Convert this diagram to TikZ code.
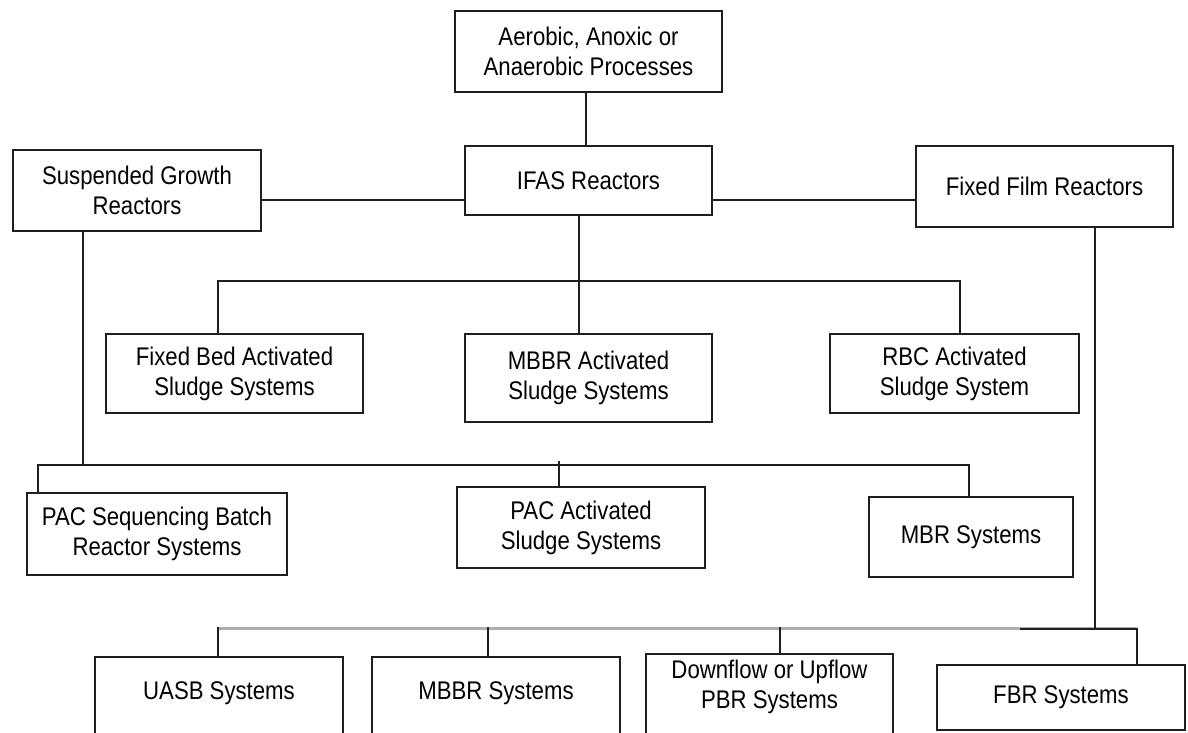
\documentclass[tikz,border=0pt]{standalone}
\usepackage{fontspec}
\setmainfont{Liberation Sans}[FakeStretch=0.87]
\begin{document}
\begin{tikzpicture}[x=1pt,y=-1pt,
  box/.style={draw=black!88, line width=2pt, inner sep=0pt, align=center,
    font=\fontsize{25.5}{30}\selectfont},
  lbl/.style={inner sep=0pt, align=center, font=\fontsize{25.5}{30}\selectfont},
  conn/.style={draw=black!88, line width=2pt},
  grayconn/.style={draw=black!32, line width=3pt}]
\useasboundingbox (0,0) rectangle (1188,733);
\clip (0,0) rectangle (1188,733);
\fill[white] (0,0) rectangle (1188,733);

% top level
\node[box, minimum width=267, minimum height=81] (aer) at (588.5,51.5) {Aerobic, Anoxic or\\Anaerobic Processes};
\node[box, minimum width=247, minimum height=69] (ifas) at (588.5,180.5) {IFAS Reactors};
\node[box, minimum width=248, minimum height=81] (susp) at (137,190.5) {Suspended Growth\\Reactors};
\node[box, minimum width=257, minimum height=81] (ffr) at (1044.5,186.5) {Fixed Film Reactors};

% IFAS children
\node[box, minimum width=257, minimum height=79] (fbed) at (234.5,373.5) {Fixed Bed Activated\\Sludge Systems};
\node[box, minimum width=247, minimum height=88] (mbbra) at (588.5,378) {MBBR Activated\\Sludge Systems};
\node[box, minimum width=249, minimum height=79] (rbc) at (954.5,373.5) {RBC Activated\\Sludge System};

% suspended children
\node[box, minimum width=260, minimum height=82] (pacsbr) at (157,534) {PAC Sequencing Batch\\Reactor Systems};
\node[box, minimum width=248, minimum height=81] (pacas) at (581,527.5) {PAC Activated\\Sludge Systems};
\node[box, minimum width=204, minimum height=80] (mbr) at (971,537) {MBR Systems};

% fixed film children
\node[box, minimum width=248, minimum height=150, anchor=north] (uasb) at (219,656) {};
\node[lbl] (uasbt) at (219,693) {UASB Systems};
\node[box, minimum width=248, minimum height=150, anchor=north] (mbbrs) at (496,656) {};
\node[lbl] (mbbrst) at (496,693) {MBBR Systems};
\node[box, minimum width=247, minimum height=150, anchor=north] (down) at (769.5,653) {};
\node[lbl] (downt) at (769.5,687) {Downflow or Upflow\\PBR Systems};
\node[box, minimum width=248, minimum height=65] (fbr) at (1061,697.5) {FBR Systems};

% connectors top
\draw[conn] (aer.south -| 586,0) -- (ifas.north -| 586,0);
\draw[conn] (susp.east |- 0,200) -- (ifas.west |- 0,200);
\draw[conn] (ifas.east |- 0,200) -- (ffr.west |- 0,200);

% IFAS tree
\draw[conn] (ifas.south -| 579,0) -- (mbbra.north -| 579,0);
\draw[conn] (fbed.north -| 218,0) -- (218,281) -- (960,281) -- (rbc.north -| 960,0);

% Suspended tree
\draw[conn] (susp.south -| 83,0) -- (83,465);
\draw[conn] (pacsbr.north -| 38,0) -- (38,465) -- (969,465) -- (mbr.north -| 969,0);
\draw[conn] (559,461) -- (pacas.north -| 559,0);

% Fixed film tree
\draw[grayconn] (218,628) -- (1137,628);
\draw[conn] (ffr.south -| 1095,0) -- (1095,629);
\draw[conn] (1020,629) -- (1137,629) -- (fbr.north -| 1137,0);
\draw[conn] (uasb.north -| 218,0) -- (218,627);
\draw[conn] (mbbrs.north -| 488,0) -- (488,627);
\draw[conn] (down.north -| 780,0) -- (780,627);
\end{tikzpicture}
\end{document}
